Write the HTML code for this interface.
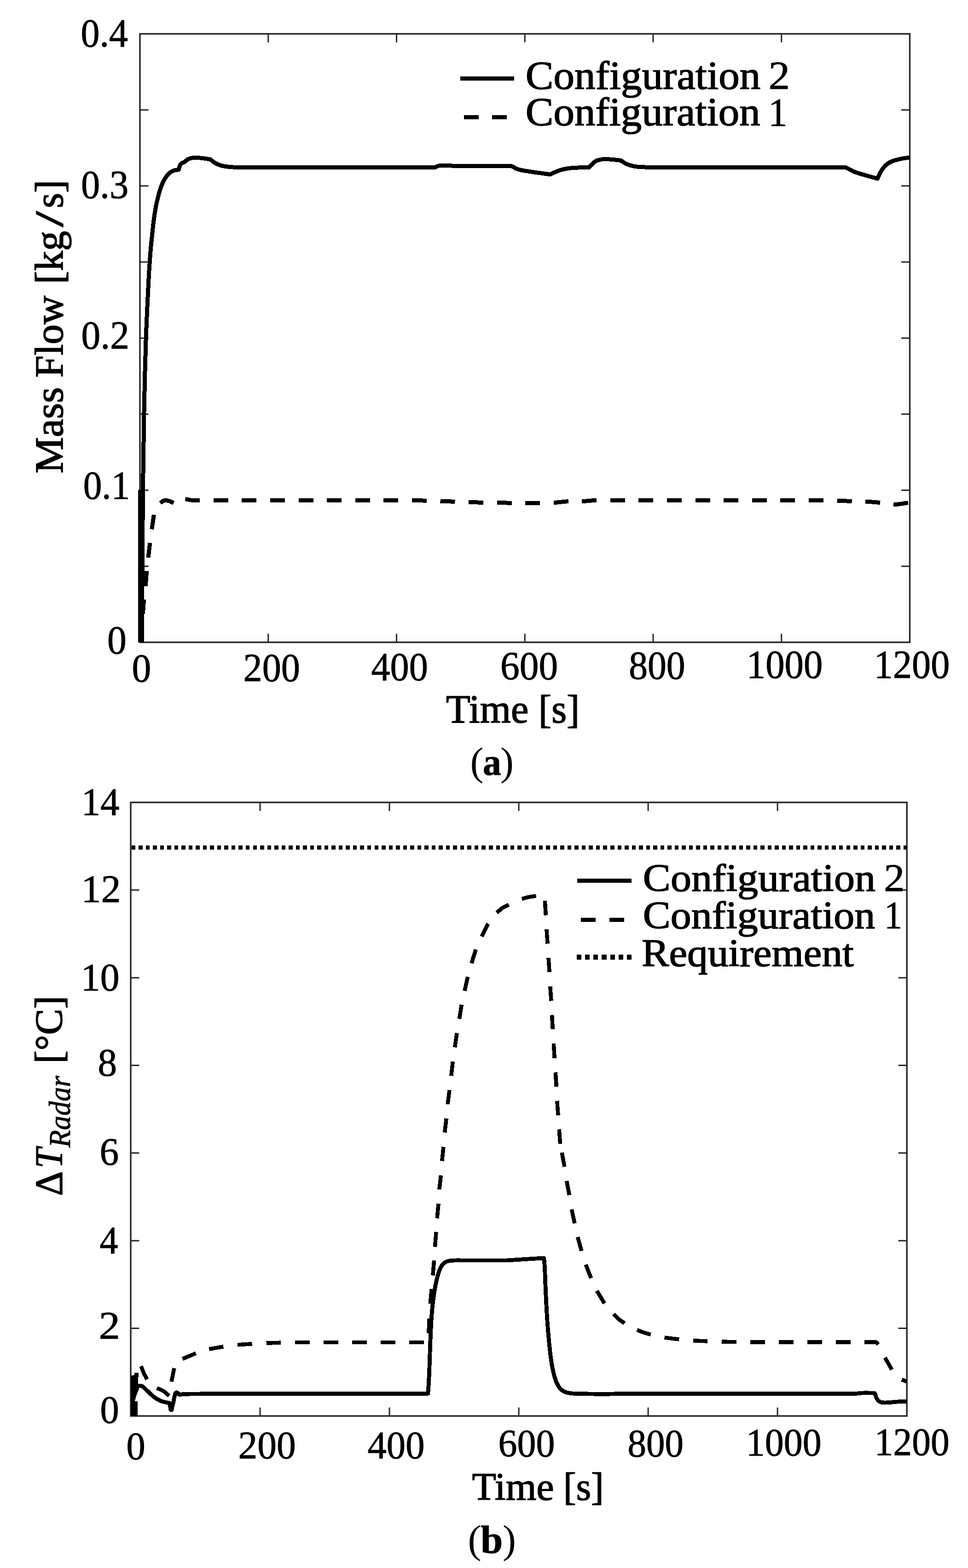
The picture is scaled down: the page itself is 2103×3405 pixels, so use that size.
<!DOCTYPE html>
<html lang="en">
<head>
<meta charset="utf-8">
<title>Mass flow and radar temperature difference</title>
<style>
html,body{margin:0;padding:0;background:#fff;width:2103px;height:3405px;overflow:hidden}
svg{display:block}
text{font-family:"Liberation Serif", "DejaVu Serif", serif;fill:#000;stroke:#000;stroke-linejoin:round}
</style>
</head>
<body>
<svg width="2103" height="3405" viewBox="0 0 2103 3405">
<rect width="2103" height="3405" fill="#fff"/>
<g id="chart-a">
<rect x="304.0" y="73.5" width="1672.5" height="1321.3" fill="none" stroke="#262626" stroke-width="3.4"/>
<path d="M582.75,1394.8v-18.5M582.75,73.5v18.5M861.50,1394.8v-18.5M861.50,73.5v18.5M1140.25,1394.8v-18.5M1140.25,73.5v18.5M1419.00,1394.8v-18.5M1419.00,73.5v18.5M1697.75,1394.8v-18.5M1697.75,73.5v18.5M304.0,1229.64h18.5M1976.5,1229.64h-18.5M304.0,1064.47h18.5M1976.5,1064.47h-18.5M304.0,899.31h18.5M1976.5,899.31h-18.5M304.0,734.15h18.5M1976.5,734.15h-18.5M304.0,568.99h18.5M1976.5,568.99h-18.5M304.0,403.83h18.5M1976.5,403.83h-18.5M304.0,238.66h18.5M1976.5,238.66h-18.5" fill="none" stroke="#262626" stroke-width="3.0"/>
<path d="M304.4,1395V1064" stroke="#000" stroke-width="9" fill="none" shape-rendering="crispEdges"/>
<path d="M308.3,1395.0C309.0,1284.7 309.5,1174.3 310.5,1064.0C311.0,1009.0 311.8,954.0 312.9,899.0C314.0,843.7 315.3,788.3 317.2,733.0C318.7,688.6 321.1,644.3 323.3,600.0C323.8,589.6 324.6,579.2 325.3,568.8C326.0,558.5 326.8,548.3 327.7,538.0C328.6,528.1 329.7,518.2 330.7,508.3C331.8,498.4 332.7,488.5 334.0,478.6C335.3,468.6 336.8,458.7 338.6,448.8C340.0,441.5 341.7,434.2 343.6,427.0C345.4,420.3 347.1,413.5 349.5,407.0C351.7,400.9 354.2,394.9 357.5,389.3C360.2,384.6 363.5,380.1 367.4,376.4C370.2,373.7 373.7,371.8 377.3,370.4C380.7,369.1 384.6,369.1 388.2,368.5C388.9,366.2 389.3,363.8 390.2,361.5C391.0,359.4 391.6,357.1 393.2,355.6C395.4,353.6 398.5,353.2 401.0,351.6C403.8,349.8 406.0,347.1 409.0,345.6C412.1,344.1 415.6,343.2 419.0,342.7C422.3,342.2 425.7,342.3 429.0,342.5C434.3,342.8 439.5,343.5 444.8,344.2C448.8,344.7 452.7,345.4 456.7,346.0C460.7,348.9 464.3,352.2 468.6,354.6C472.3,356.7 476.4,358.4 480.5,359.5C486.3,361.0 492.3,362.0 498.3,362.5C508.2,363.3 518.1,363.5 528.0,363.5L945.0,363.5C948.1,362.3 950.9,360.2 954.2,359.8C962.6,358.9 971.0,359.6 979.4,359.8C982.0,359.9 984.7,360.6 987.3,360.6L1111.6,360.6C1116.0,362.9 1120.2,365.9 1124.9,367.5C1130.9,369.5 1137.2,370.4 1143.4,371.4C1160.6,374.2 1177.8,376.3 1195.0,378.8C1202.5,375.6 1209.7,371.7 1217.5,369.3C1225.2,367.0 1233.3,365.6 1241.3,364.8C1254.0,363.6 1266.8,363.9 1279.6,363.5C1283.6,359.5 1287.1,355.0 1291.5,351.6C1294.0,349.7 1297.0,348.4 1300.0,347.6C1304.3,346.4 1308.7,345.7 1313.2,345.5C1318.5,345.3 1323.7,345.9 1329.0,346.3C1335.7,346.8 1342.3,347.7 1349.0,348.4C1352.9,350.9 1356.5,354.2 1360.8,356.0C1366.7,358.5 1373.0,360.4 1379.4,361.4C1388.1,362.8 1397.0,362.8 1405.8,363.2C1411.1,363.5 1416.4,363.5 1421.7,363.5L1837.6,363.7C1844.6,367.1 1851.3,371.4 1858.7,374.0C1874.3,379.5 1890.4,383.3 1906.3,388.0C1909.0,382.5 1911.0,376.6 1914.3,371.4C1917.3,366.6 1920.7,362.0 1924.9,358.2C1928.7,354.8 1933.3,352.3 1938.0,350.3C1944.0,347.8 1950.3,346.4 1956.6,345.0C1963.2,343.6 1969.9,342.9 1976.5,341.8" fill="none" stroke="#000" stroke-width="9" stroke-linecap="butt" stroke-linejoin="round" shape-rendering="crispEdges"/>
<path d="M312.5,1302.0L310.5,1333.0" fill="none" stroke="#000" stroke-width="9" stroke-linecap="butt" stroke-linejoin="round" shape-rendering="crispEdges"/>
<path d="M318.6,1240.0L316.3,1273.0" fill="none" stroke="#000" stroke-width="9" stroke-linecap="butt" stroke-linejoin="round" shape-rendering="crispEdges"/>
<path d="M325.8,1179.0L322.0,1211.0" fill="none" stroke="#000" stroke-width="9" stroke-linecap="butt" stroke-linejoin="round" shape-rendering="crispEdges"/>
<path d="M334.4,1118.0L329.8,1149.5" fill="none" stroke="#000" stroke-width="9" stroke-linecap="butt" stroke-linejoin="round" shape-rendering="crispEdges"/>
<path d="M348.3,1092.3C350.2,1090.9 351.8,1089.0 354.0,1088.0C356.1,1087.0 358.6,1086.5 360.9,1086.6C363.7,1086.7 366.4,1087.6 369.0,1088.5C371.8,1089.5 374.5,1091.0 377.2,1092.3" fill="none" stroke="#000" stroke-width="9" stroke-linecap="butt" stroke-linejoin="round" shape-rendering="crispEdges"/>
<path d="M402.4,1083.6C406.6,1084.4 410.7,1085.6 415.0,1086.0C421.6,1086.7 428.3,1086.8 434.9,1086.8L900.0,1086.8C919.3,1086.8 938.7,1087.6 958.0,1088.2C978.3,1088.8 998.7,1090.0 1019.0,1090.6C1039.7,1091.2 1060.3,1091.2 1081.0,1091.6C1101.7,1092.0 1122.3,1092.5 1143.0,1092.8C1153.7,1092.9 1164.3,1093.0 1175.0,1092.8C1184.7,1092.6 1194.3,1092.3 1204.0,1091.6C1214.7,1090.9 1225.3,1089.1 1236.0,1088.6C1245.7,1088.1 1255.3,1089.0 1265.0,1088.6C1275.7,1088.2 1286.3,1086.5 1297.0,1086.2C1307.0,1085.9 1317.0,1086.8 1327.0,1086.8L1800.0,1087.0C1817.0,1087.0 1834.0,1087.9 1851.0,1088.4C1861.0,1088.7 1871.0,1088.7 1881.0,1089.2C1891.7,1089.8 1902.4,1090.4 1913.0,1091.8C1918.8,1092.5 1924.3,1094.7 1930.0,1095.5C1934.0,1096.1 1938.0,1096.4 1942.0,1096.0C1953.4,1095.0 1964.7,1092.9 1976.0,1091.3" fill="none" stroke="#000" stroke-width="9" stroke-linecap="butt" stroke-linejoin="round" stroke-dasharray="32 29.6" shape-rendering="crispEdges"/>
<path d="M1000,170.4H1117" stroke="#000" stroke-width="9.5" fill="none" shape-rendering="crispEdges"/>
<path d="M1007.8,254.6H1040.3M1069.2,254.6H1101.2" stroke="#000" stroke-width="9.5" fill="none" shape-rendering="crispEdges"/>
</g>
<g id="chart-b">
<rect x="284.0" y="1742.5" width="1686.2" height="1332.4" fill="none" stroke="#262626" stroke-width="3.4"/>
<path d="M565.03,3074.9v-18.5M565.03,1742.5v18.5M846.07,3074.9v-18.5M846.07,1742.5v18.5M1127.10,3074.9v-18.5M1127.10,1742.5v18.5M1408.13,3074.9v-18.5M1408.13,1742.5v18.5M1689.17,3074.9v-18.5M1689.17,1742.5v18.5M284.0,2884.56h18.5M1970.2,2884.56h-18.5M284.0,2694.21h18.5M1970.2,2694.21h-18.5M284.0,2503.87h18.5M1970.2,2503.87h-18.5M284.0,2313.53h18.5M1970.2,2313.53h-18.5M284.0,2123.19h18.5M1970.2,2123.19h-18.5M284.0,1932.84h18.5M1970.2,1932.84h-18.5" fill="none" stroke="#262626" stroke-width="3.0"/>
<path d="M285.5,1840.5H1970" stroke="#000" stroke-width="9" stroke-dasharray="8.5 7.03" fill="none" shape-rendering="crispEdges"/>
<path d="M284.6,3075L285.2,2987.3L292.2,2986L292.2,2981.3L300.7,2981.3L300.2,3006L303,3013L293.5,3038L293,3043L299,3043L299.1,3075Z" fill="#000" shape-rendering="crispEdges"/>
<path d="M288.5,3041.0C291.9,3030.9 294.4,3020.4 298.6,3010.6C299.1,3009.5 300.8,3009.4 302.0,3009.2C303.3,3009.0 304.7,3009.1 306.0,3009.4C307.4,3009.7 308.9,3010.1 310.0,3011.0C314.6,3014.7 318.6,3019.0 322.9,3023.0C327.3,3027.0 331.3,3031.4 336.1,3034.9C340.2,3037.9 344.7,3040.3 349.4,3042.2C353.6,3043.9 358.2,3044.7 362.6,3045.8C364.3,3046.2 366.1,3046.5 367.9,3046.8C368.6,3049.9 369.2,3053.0 370.0,3056.0C370.5,3058.0 369.8,3062.0 371.9,3062.0C374.0,3062.0 373.4,3058.0 374.0,3056.0C375.0,3052.5 375.7,3049.0 376.5,3045.5C377.4,3041.1 378.1,3036.7 379.1,3032.3C379.6,3030.2 380.0,3028.0 381.0,3026.0C381.5,3025.0 382.4,3023.8 383.5,3023.7C384.7,3023.6 385.6,3024.8 386.5,3025.5C387.7,3026.4 388.6,3027.6 389.7,3028.6C393.9,3028.1 398.1,3027.2 402.3,3027.2L455.2,3026.7L929.8,3026.2C930.2,3020.8 930.7,3015.4 931.0,3010.0C931.6,2999.0 932.3,2988.0 932.7,2977.0C933.5,2957.2 933.9,2937.3 934.7,2917.5C935.5,2897.7 936.3,2877.8 937.7,2858.0C938.6,2844.7 940.0,2831.5 941.7,2818.3C943.0,2808.3 944.6,2798.4 946.6,2788.5C948.2,2780.5 950.1,2772.5 952.6,2764.7C954.4,2759.2 956.3,2753.6 959.5,2748.8C962.0,2745.1 965.4,2741.8 969.4,2739.9C973.6,2737.8 978.6,2737.8 983.3,2737.3C988.6,2736.8 993.9,2736.9 999.2,2736.9L1102.4,2736.9L1181.7,2731.9C1182.2,2737.9 1183.0,2744.0 1183.3,2750.0C1184.1,2763.8 1184.4,2777.7 1185.0,2791.5C1186.0,2813.5 1186.9,2835.6 1188.3,2857.6C1189.3,2874.2 1190.7,2890.7 1192.2,2907.2C1193.4,2920.5 1194.7,2933.7 1196.5,2946.9C1197.8,2956.9 1199.3,2966.9 1201.5,2976.7C1203.2,2984.5 1205.2,2992.3 1208.1,2999.8C1210.2,3005.1 1212.8,3010.3 1216.4,3014.7C1219.0,3017.9 1222.5,3020.5 1226.3,3022.3C1230.4,3024.2 1235.0,3025.1 1239.5,3025.6C1247.2,3026.5 1255.0,3026.4 1262.7,3026.6C1279.2,3027.0 1295.8,3027.3 1312.3,3027.3C1325.5,3027.3 1338.8,3026.6 1352.0,3026.6L1860.0,3026.2C1864.0,3026.2 1868.0,3025.1 1872.0,3025.0C1881.2,3024.7 1890.3,3025.0 1899.5,3025.0C1900.2,3026.0 1901.0,3026.9 1901.5,3028.0C1902.6,3030.7 1902.9,3033.7 1904.3,3036.2C1905.8,3038.9 1907.7,3041.5 1910.2,3043.3C1912.2,3044.8 1914.9,3045.4 1917.4,3045.7C1921.7,3046.2 1926.1,3045.9 1930.5,3045.7C1936.8,3045.4 1943.2,3044.4 1949.5,3044.0C1956.3,3043.6 1963.2,3043.4 1970.0,3043.1" fill="none" stroke="#000" stroke-width="8.8" stroke-linecap="butt" stroke-linejoin="round" shape-rendering="crispEdges"/>
<path d="M306.6,2966.8C308.4,2971.5 309.9,2976.4 312.0,2981.0C314.2,2985.9 317.1,2990.5 319.6,2995.2" fill="none" stroke="#000" stroke-width="8.5" stroke-linecap="butt" stroke-linejoin="round" shape-rendering="crispEdges"/>
<path d="M340.8,3014.4C345.4,3016.4 350.4,3017.7 354.7,3020.4C359.4,3023.4 363.2,3027.6 367.5,3031.2" fill="none" stroke="#000" stroke-width="8.5" stroke-linecap="butt" stroke-linejoin="round" shape-rendering="crispEdges"/>
<path d="M372.5,3000.5L378.5,2971.0" fill="none" stroke="#000" stroke-width="8.5" stroke-linecap="butt" stroke-linejoin="round" shape-rendering="crispEdges"/>
<path d="M396.3,2950.9L425.6,2938.8" fill="none" stroke="#000" stroke-width="8.5" stroke-linecap="butt" stroke-linejoin="round" shape-rendering="crispEdges"/>
<path d="M454.3,2929.6L485.3,2924.3" fill="none" stroke="#000" stroke-width="8.5" stroke-linecap="butt" stroke-linejoin="round" shape-rendering="crispEdges"/>
<path d="M515.9,2920.3L547.6,2918.3" fill="none" stroke="#000" stroke-width="8.5" stroke-linecap="butt" stroke-linejoin="round" shape-rendering="crispEdges"/>
<path d="M578.6,2916.7L610.3,2915.6" fill="none" stroke="#000" stroke-width="8.5" stroke-linecap="butt" stroke-linejoin="round" shape-rendering="crispEdges"/>
<path d="M934.7,2831.2L937.7,2799.4" fill="none" stroke="#000" stroke-width="8.5" stroke-linecap="butt" stroke-linejoin="round" shape-rendering="crispEdges"/>
<path d="M940.3,2769.6L943.1,2737.3" fill="none" stroke="#000" stroke-width="8.5" stroke-linecap="butt" stroke-linejoin="round" shape-rendering="crispEdges"/>
<path d="M945.0,2707.7L947.6,2675.4" fill="none" stroke="#000" stroke-width="8.5" stroke-linecap="butt" stroke-linejoin="round" shape-rendering="crispEdges"/>
<path d="M949.6,2645.6L952.6,2613.9" fill="none" stroke="#000" stroke-width="8.5" stroke-linecap="butt" stroke-linejoin="round" shape-rendering="crispEdges"/>
<path d="M954.4,2582.9L957.9,2552.4" fill="none" stroke="#000" stroke-width="8.5" stroke-linecap="butt" stroke-linejoin="round" shape-rendering="crispEdges"/>
<path d="M960.3,2521.2L963.5,2490.6" fill="none" stroke="#000" stroke-width="8.5" stroke-linecap="butt" stroke-linejoin="round" shape-rendering="crispEdges"/>
<path d="M966.2,2459.4L969.7,2428.8" fill="none" stroke="#000" stroke-width="8.5" stroke-linecap="butt" stroke-linejoin="round" shape-rendering="crispEdges"/>
<path d="M972.6,2397.9L976.5,2367.1" fill="none" stroke="#000" stroke-width="8.5" stroke-linecap="butt" stroke-linejoin="round" shape-rendering="crispEdges"/>
<path d="M980.3,2336.2L983.8,2305.3" fill="none" stroke="#000" stroke-width="8.5" stroke-linecap="butt" stroke-linejoin="round" shape-rendering="crispEdges"/>
<path d="M988.2,2274.4L992.6,2243.5" fill="none" stroke="#000" stroke-width="8.5" stroke-linecap="butt" stroke-linejoin="round" shape-rendering="crispEdges"/>
<path d="M997.9,2212.6L1002.9,2181.8" fill="none" stroke="#000" stroke-width="8.5" stroke-linecap="butt" stroke-linejoin="round" shape-rendering="crispEdges"/>
<path d="M1009.4,2151.8L1016.2,2121.2" fill="none" stroke="#000" stroke-width="8.5" stroke-linecap="butt" stroke-linejoin="round" shape-rendering="crispEdges"/>
<path d="M1024.4,2091.8L1033.8,2061.8" fill="none" stroke="#000" stroke-width="8.5" stroke-linecap="butt" stroke-linejoin="round" shape-rendering="crispEdges"/>
<path d="M1046.2,2033.8L1060.3,2005.9" fill="none" stroke="#000" stroke-width="8.5" stroke-linecap="butt" stroke-linejoin="round" shape-rendering="crispEdges"/>
<path d="M1079.4,1982.4C1083.3,1978.9 1086.7,1974.9 1091.0,1972.0C1095.4,1969.0 1100.5,1967.1 1105.3,1964.7" fill="none" stroke="#000" stroke-width="8.5" stroke-linecap="butt" stroke-linejoin="round" shape-rendering="crispEdges"/>
<path d="M1133.8,1952.1C1138.9,1950.7 1143.9,1949.1 1149.0,1948.0C1154.2,1946.9 1159.5,1946.4 1164.7,1945.6" fill="none" stroke="#000" stroke-width="8.5" stroke-linecap="butt" stroke-linejoin="round" shape-rendering="crispEdges"/>
<path d="M1183.8,1955.9L1185.9,1987.6" fill="none" stroke="#000" stroke-width="8.5" stroke-linecap="butt" stroke-linejoin="round" shape-rendering="crispEdges"/>
<path d="M1187.4,2018.2L1189.7,2049.4" fill="none" stroke="#000" stroke-width="8.5" stroke-linecap="butt" stroke-linejoin="round" shape-rendering="crispEdges"/>
<path d="M1191.5,2080.0L1193.8,2111.2" fill="none" stroke="#000" stroke-width="8.5" stroke-linecap="butt" stroke-linejoin="round" shape-rendering="crispEdges"/>
<path d="M1195.3,2142.1L1197.6,2173.5" fill="none" stroke="#000" stroke-width="8.5" stroke-linecap="butt" stroke-linejoin="round" shape-rendering="crispEdges"/>
<path d="M1199.1,2204.4L1200.9,2235.3" fill="none" stroke="#000" stroke-width="8.5" stroke-linecap="butt" stroke-linejoin="round" shape-rendering="crispEdges"/>
<path d="M1202.9,2266.2L1204.7,2297.9" fill="none" stroke="#000" stroke-width="8.5" stroke-linecap="butt" stroke-linejoin="round" shape-rendering="crispEdges"/>
<path d="M1206.8,2328.5L1208.8,2359.7" fill="none" stroke="#000" stroke-width="8.5" stroke-linecap="butt" stroke-linejoin="round" shape-rendering="crispEdges"/>
<path d="M1210.3,2390.6L1212.6,2422.1" fill="none" stroke="#000" stroke-width="8.5" stroke-linecap="butt" stroke-linejoin="round" shape-rendering="crispEdges"/>
<path d="M1214.7,2452.4L1217.1,2483.8" fill="none" stroke="#000" stroke-width="8.5" stroke-linecap="butt" stroke-linejoin="round" shape-rendering="crispEdges"/>
<path d="M1220.6,2502.9L1226.5,2533.8" fill="none" stroke="#000" stroke-width="8.5" stroke-linecap="butt" stroke-linejoin="round" shape-rendering="crispEdges"/>
<path d="M1231.1,2564.4L1236.9,2595.2" fill="none" stroke="#000" stroke-width="8.5" stroke-linecap="butt" stroke-linejoin="round" shape-rendering="crispEdges"/>
<path d="M1241.8,2626.1L1248.5,2656.6" fill="none" stroke="#000" stroke-width="8.5" stroke-linecap="butt" stroke-linejoin="round" shape-rendering="crispEdges"/>
<path d="M1255.1,2686.3L1263.3,2716.4" fill="none" stroke="#000" stroke-width="8.5" stroke-linecap="butt" stroke-linejoin="round" shape-rendering="crispEdges"/>
<path d="M1272.6,2746.2L1284.2,2775.6" fill="none" stroke="#000" stroke-width="8.5" stroke-linecap="butt" stroke-linejoin="round" shape-rendering="crispEdges"/>
<path d="M1296.7,2803.1L1313.3,2830.5" fill="none" stroke="#000" stroke-width="8.5" stroke-linecap="butt" stroke-linejoin="round" shape-rendering="crispEdges"/>
<path d="M1333.1,2853.7C1336.7,2857.3 1340.1,2861.2 1344.0,2864.5C1348.0,2867.9 1352.6,2870.5 1356.9,2873.5" fill="none" stroke="#000" stroke-width="8.5" stroke-linecap="butt" stroke-linejoin="round" shape-rendering="crispEdges"/>
<path d="M1384.0,2888.0C1388.7,2889.8 1393.2,2891.9 1398.0,2893.5C1403.2,2895.2 1408.5,2896.5 1413.8,2898.0" fill="none" stroke="#000" stroke-width="8.5" stroke-linecap="butt" stroke-linejoin="round" shape-rendering="crispEdges"/>
<path d="M1443.6,2904.6L1475.3,2908.5" fill="none" stroke="#000" stroke-width="8.5" stroke-linecap="butt" stroke-linejoin="round" shape-rendering="crispEdges"/>
<path d="M1505.7,2911.2L1537.1,2912.5" fill="none" stroke="#000" stroke-width="8.5" stroke-linecap="butt" stroke-linejoin="round" shape-rendering="crispEdges"/>
<path d="M1567.6,2913.5L1600.0,2914.2" fill="none" stroke="#000" stroke-width="8.5" stroke-linecap="butt" stroke-linejoin="round" shape-rendering="crispEdges"/>
<path d="M1922.6,2948.1L1937.6,2974.3" fill="none" stroke="#000" stroke-width="8.5" stroke-linecap="butt" stroke-linejoin="round" shape-rendering="crispEdges"/>
<path d="M1959.0,2995.7L1969.8,3000.5" fill="none" stroke="#000" stroke-width="8.5" stroke-linecap="butt" stroke-linejoin="round" shape-rendering="crispEdges"/>
<path d="M640.9,2915.2L930.4,2915.2L932.9,2860.9" fill="none" stroke="#000" stroke-width="8.5" stroke-linecap="butt" stroke-linejoin="round" stroke-dasharray="32 29.9" shape-rendering="crispEdges"/>
<path d="M1630.4,2914.4L1901.9,2914.4C1903.0,2914.4 1904.1,2915.1 1905.0,2915.8C1906.2,2916.8 1906.9,2918.3 1907.9,2919.5" fill="none" stroke="#000" stroke-width="8.5" stroke-linecap="butt" stroke-linejoin="round" stroke-dasharray="32 29.9" shape-rendering="crispEdges"/>
<path d="M1253.8,1912.5H1372.3" stroke="#000" stroke-width="9.5" fill="none" shape-rendering="crispEdges"/>
<path d="M1261.7,1997.3H1294.2M1323.9,1997.3H1356.4" stroke="#000" stroke-width="9.5" fill="none" shape-rendering="crispEdges"/>
<path d="M1252.8,2078.4H1372.3" stroke="#000" stroke-width="11" stroke-dasharray="10.2 8" fill="none" shape-rendering="crispEdges"/>
</g>
<g id="labels">
<text id="a_y04" x="175.60" y="100.50" font-size="86" stroke-width="1.0" textLength="102.55" lengthAdjust="spacingAndGlyphs">0.4</text>
<text id="a_y03" x="176.08" y="430.30" font-size="86" stroke-width="1.0" textLength="103.13" lengthAdjust="spacingAndGlyphs">0.3</text>
<text id="a_y02" x="176.56" y="757.20" font-size="86" stroke-width="1.0" textLength="104.33" lengthAdjust="spacingAndGlyphs">0.2</text>
<text id="a_y01" x="180.63" y="1083.00" font-size="86" stroke-width="1.0" textLength="101.76" lengthAdjust="spacingAndGlyphs">0.1</text>
<text id="a_y00" x="233.05" y="1419.00" font-size="86" stroke-width="1.0" textLength="41.88" lengthAdjust="spacingAndGlyphs">0</text>
<text id="a_x0" x="286.55" y="1479.70" font-size="86" stroke-width="1.0" textLength="41.88" lengthAdjust="spacingAndGlyphs">0</text>
<text id="a_x200" x="528.61" y="1478.60" font-size="86" stroke-width="1.0" textLength="123.39" lengthAdjust="spacingAndGlyphs">200</text>
<text id="a_x400" x="806.53" y="1476.60" font-size="86" stroke-width="1.0" textLength="123.28" lengthAdjust="spacingAndGlyphs">400</text>
<text id="a_x600" x="1087.08" y="1475.30" font-size="86" stroke-width="1.0" textLength="125.05" lengthAdjust="spacingAndGlyphs">600</text>
<text id="a_x800" x="1366.14" y="1474.40" font-size="86" stroke-width="1.0" textLength="122.55" lengthAdjust="spacingAndGlyphs">800</text>
<text id="a_x1000" x="1621.73" y="1472.30" font-size="86" stroke-width="1.0" textLength="165.68" lengthAdjust="spacingAndGlyphs">1000</text>
<text id="a_x1200" x="1898.78" y="1472.00" font-size="86" stroke-width="1.0" textLength="164.62" lengthAdjust="spacingAndGlyphs">1200</text>
<text id="b_y14" x="176.65" y="1770.00" font-size="85" stroke-width="1.0" textLength="82.85" lengthAdjust="spacingAndGlyphs">14</text>
<text id="b_y12" x="176.40" y="1959.20" font-size="85" stroke-width="1.0" textLength="86.16" lengthAdjust="spacingAndGlyphs">12</text>
<text id="b_y10" x="175.85" y="2151.20" font-size="85" stroke-width="1.0" textLength="83.66" lengthAdjust="spacingAndGlyphs">10</text>
<text id="b_y8" x="212.55" y="2336.40" font-size="85" stroke-width="1.0" textLength="41.62" lengthAdjust="spacingAndGlyphs">8</text>
<text id="b_y6" x="216.53" y="2530.20" font-size="85" stroke-width="1.0" textLength="41.65" lengthAdjust="spacingAndGlyphs">6</text>
<text id="b_y4" x="216.53" y="2721.70" font-size="85" stroke-width="1.0" textLength="40.06" lengthAdjust="spacingAndGlyphs">4</text>
<text id="b_y2" x="214.72" y="2906.90" font-size="85" stroke-width="1.0" textLength="46.16" lengthAdjust="spacingAndGlyphs">2</text>
<text id="b_y0" x="217.57" y="3090.30" font-size="85" stroke-width="1.0" textLength="41.17" lengthAdjust="spacingAndGlyphs">0</text>
<text id="b_x0" x="274.55" y="3169.00" font-size="85" stroke-width="1.0" textLength="41.17" lengthAdjust="spacingAndGlyphs">0</text>
<text id="b_x200" x="517.56" y="3167.00" font-size="85" stroke-width="1.0" textLength="125.20" lengthAdjust="spacingAndGlyphs">200</text>
<text id="b_x400" x="798.52" y="3167.00" font-size="85" stroke-width="1.0" textLength="124.01" lengthAdjust="spacingAndGlyphs">400</text>
<text id="b_x600" x="1082.60" y="3163.30" font-size="85" stroke-width="1.0" textLength="122.90" lengthAdjust="spacingAndGlyphs">600</text>
<text id="b_x800" x="1363.61" y="3163.00" font-size="85" stroke-width="1.0" textLength="121.49" lengthAdjust="spacingAndGlyphs">800</text>
<text id="b_x1000" x="1620.75" y="3160.50" font-size="85" stroke-width="1.0" textLength="163.88" lengthAdjust="spacingAndGlyphs">1000</text>
<text id="b_x1200" x="1899.77" y="3160.20" font-size="85" stroke-width="1.0" textLength="162.83" lengthAdjust="spacingAndGlyphs">1200</text>
<text id="b_l3" x="1393.93" y="2098.00" font-size="85" stroke-width="1.6" textLength="460.88" lengthAdjust="spacingAndGlyphs">Requirement</text>
<text font-size="86"><tspan x="1141.88" y="193.4" stroke-width="1.6" textLength="510.45" lengthAdjust="spacingAndGlyphs">Configuration</tspan> <tspan x="1669.75" y="193.2" stroke-width="1.0" textLength="46.36" lengthAdjust="spacingAndGlyphs">2</tspan></text>
<text font-size="86"><tspan x="1141.89" y="272.4" stroke-width="1.6" textLength="509.84" lengthAdjust="spacingAndGlyphs">Configuration</tspan> <tspan x="1669.26" y="272.6" stroke-width="1.0" textLength="41.4" lengthAdjust="spacingAndGlyphs">1</tspan></text>
<text font-size="86"><tspan x="968.99" y="1568.6" stroke-width="1.6" textLength="179.29" lengthAdjust="spacingAndGlyphs">Time</tspan> <tspan x="1170.11" y="1568.6" stroke-width="1.6" textLength="88.95" lengthAdjust="spacingAndGlyphs">[s]</tspan></text>
<text font-size="87"><tspan x="1021.5" y="1683" stroke-width="0">(</tspan><tspan x="1049.08" y="1683" font-size="83" font-weight="bold" stroke-width="1.0" textLength="39.8" lengthAdjust="spacingAndGlyphs">a</tspan><tspan x="1087" y="1683" stroke-width="0">)</tspan></text>
<text transform="translate(136.1,0) rotate(-90)" font-size="86"><tspan x="-1028.05" y="0" stroke-width="1.6" textLength="187.29" lengthAdjust="spacingAndGlyphs">Mass</tspan> <tspan x="-820.01" y="0" stroke-width="1.6" textLength="178.05" lengthAdjust="spacingAndGlyphs">Flow</tspan> <tspan x="-617.05" y="0" stroke-width="1.6" textLength="115.69" lengthAdjust="spacingAndGlyphs">[kg</tspan><tspan x="-493.05" y="0" stroke-width="1.6" textLength="34.43" lengthAdjust="spacingAndGlyphs">/</tspan><tspan x="-451.96" y="0" stroke-width="1.6" textLength="61.19" lengthAdjust="spacingAndGlyphs">s]</tspan></text>
<text font-size="85"><tspan x="1396.86" y="1934.8" stroke-width="1.6" textLength="505.06" lengthAdjust="spacingAndGlyphs">Configuration</tspan> <tspan x="1920.32" y="1935" stroke-width="1.0" textLength="45.11" lengthAdjust="spacingAndGlyphs">2</tspan></text>
<text font-size="85"><tspan x="1396.88" y="2015.5" stroke-width="1.6" textLength="504.4" lengthAdjust="spacingAndGlyphs">Configuration</tspan> <tspan x="1921.01" y="2015.5" stroke-width="1.0" textLength="39.05" lengthAdjust="spacingAndGlyphs">1</tspan></text>
<text font-size="85"><tspan x="1025.49" y="3257.3" stroke-width="1.6" textLength="178.03" lengthAdjust="spacingAndGlyphs">Time</tspan> <tspan x="1224.11" y="3257.3" stroke-width="1.6" textLength="87.48" lengthAdjust="spacingAndGlyphs">[s]</tspan></text>
<text font-size="87"><tspan x="1016.5" y="3372.4" stroke-width="0">(</tspan><tspan x="1044" y="3372.4" font-size="85" font-weight="bold" stroke-width="1.0" textLength="48.36" lengthAdjust="spacingAndGlyphs">b</tspan><tspan x="1092" y="3372.4" stroke-width="0">)</tspan></text>
<text transform="translate(135,0) rotate(-90)" font-size="85"><tspan x="-2596.96" y="0" stroke-width="1.6" textLength="53.6" lengthAdjust="spacingAndGlyphs">Δ</tspan><tspan x="-2537.11" y="0" font-style="italic" stroke-width="1.3" textLength="43.74" lengthAdjust="spacingAndGlyphs">T</tspan><tspan x="-2492.04" y="16.9" font-size="65" font-style="italic" stroke-width="1.0" textLength="155.76" lengthAdjust="spacingAndGlyphs">Radar</tspan> <tspan x="-2309.5" y="0" stroke-width="1.6" textLength="147.1" lengthAdjust="spacingAndGlyphs">[°C]</tspan></text>
</g>
</svg>
</body>
</html>
